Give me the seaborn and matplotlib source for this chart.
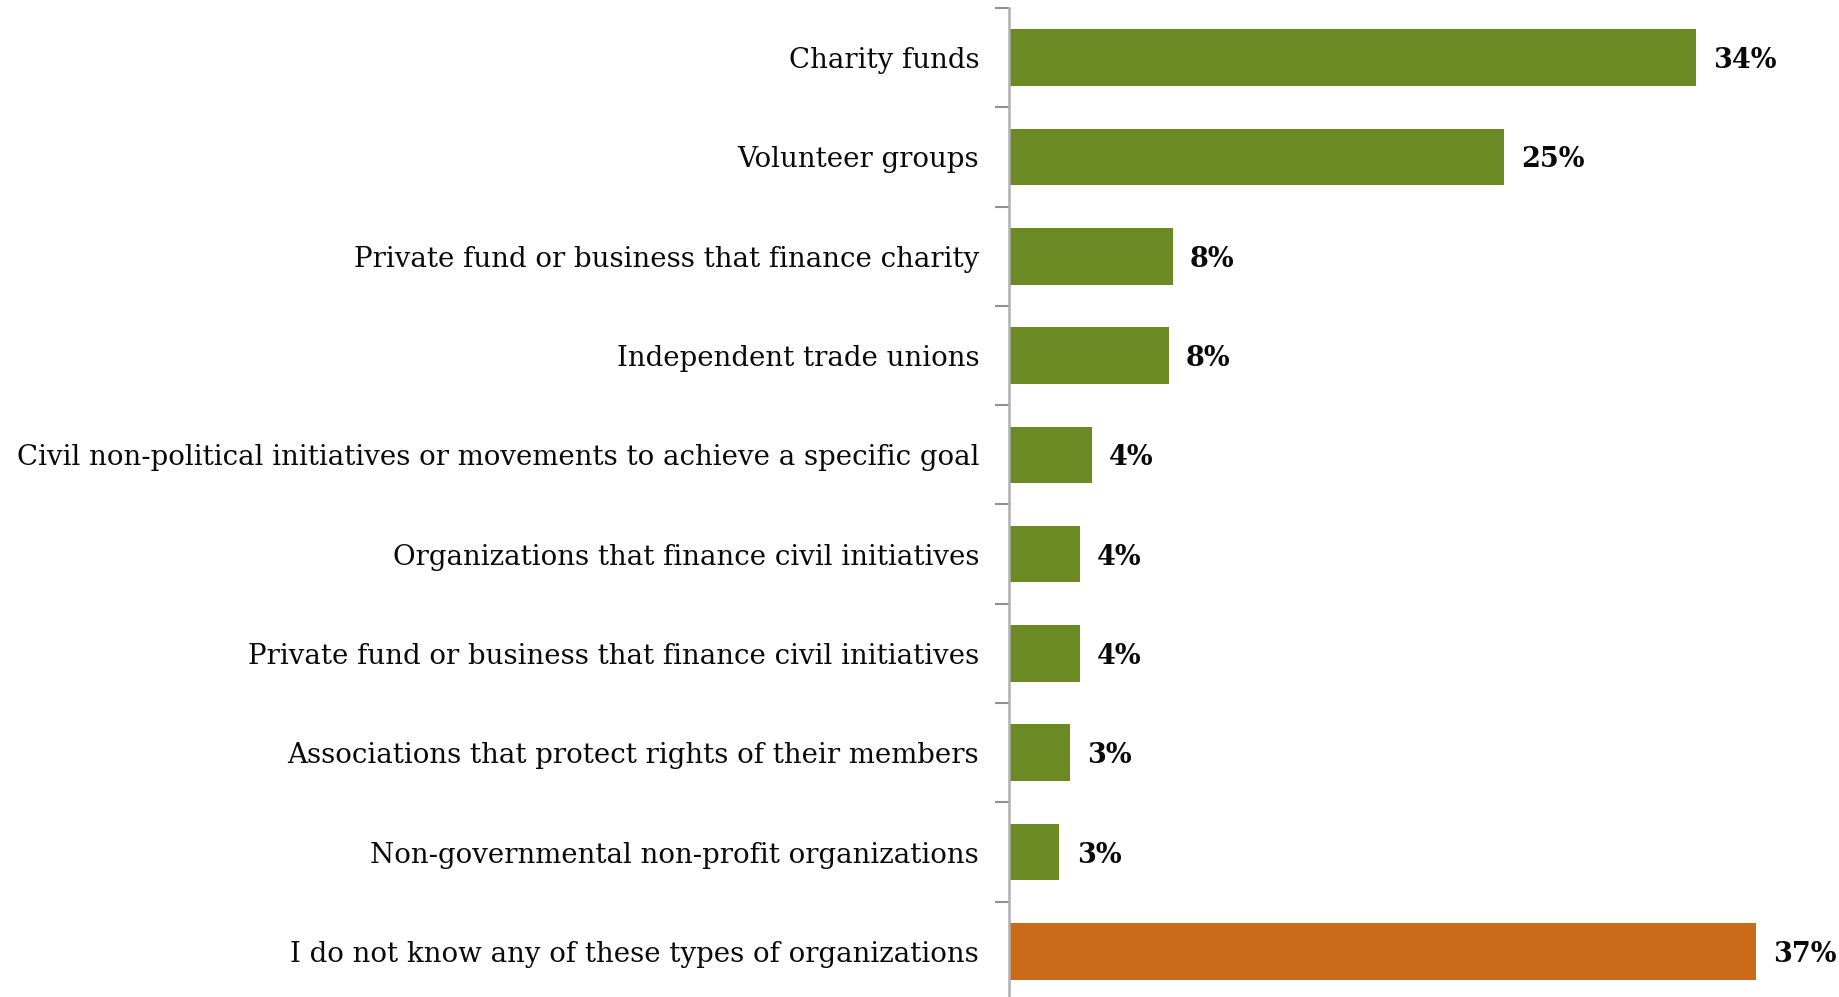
import matplotlib
matplotlib.use("Agg")
import matplotlib.pyplot as plt
import seaborn as sns
import numpy as np
from matplotlib.ticker import FixedLocator

categories = [
    "Charity funds",
    "Volunteer groups",
    "Private fund or business that finance charity",
    "Independent trade unions",
    "Civil non-political initiatives or movements to achieve a specific goal",
    "Organizations that finance civil initiatives",
    "Private fund or business that finance civil initiatives",
    "Associations that protect rights of their members",
    "Non-governmental non-profit organizations",
    "I do not know any of these types of organizations",
]
values = [34.0, 24.5, 8.1, 7.9, 4.1, 3.5, 3.5, 3.0, 2.5, 37.0]
bar_colors = ["#6b8a23"] * 9 + ["#cb6b1a"]

sns.set_theme(style="white")
plt.rcParams["font.family"] = ["DejaVu Serif"]

fig = plt.figure(figsize=(18.39, 9.97), dpi=100)
ax = fig.add_axes([1009 / 1839, -0.004, 1 - 1009 / 1839, 0.996])

sns.barplot(x=values, y=categories, hue=categories, palette=bar_colors,
            legend=False, orient="h", width=0.57, ax=ax, saturation=1,
            edgecolor="none")

ax.set_xlim(0, 41.1)
ax.set_ylim(9.5, -0.5)
ax.set_xlabel("")
ax.set_ylabel("")
ax.set_xticks([])

for s in ["top", "right", "bottom"]:
    ax.spines[s].set_visible(False)
ax.spines["left"].set_color("#b0b0b0")
ax.spines["left"].set_linewidth(1.8)

ax.yaxis.set_minor_locator(FixedLocator(np.arange(-0.5, 10, 1)))
ax.tick_params(axis="y", which="major", length=0, pad=21.5, labelsize=19.9,
               labelcolor="#0a0a0a")
ax.tick_params(axis="y", which="minor", length=10, width=1.5, color="#909090",
               left=True)

for i, v in enumerate(values):
    ax.text(v + 0.85, i + 0.03, f"{int(v + 0.5)}%", va="center", ha="left",
            fontsize=19.5, fontweight="bold", color="#0a0a0a")

fig.savefig("out.png", dpi=100)
